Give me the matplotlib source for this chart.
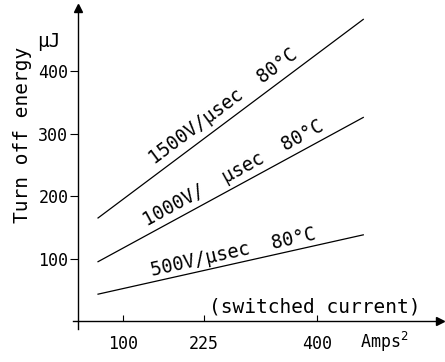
import numpy as np
import matplotlib.pyplot as plt

# data (x in Amps^2, y in uJ)
x_start, x_end = 61, 471
e_1500 = [165, 483]
e_1000 = [95, 326]
e_500 = [43, 138]
labels = ['1500V/\u03bcsec  80\u00b0C', '1000V/  \u03bcsec  80\u00b0C', '500V/\u03bcsec  80\u00b0C']
xticks = [100, 225, 400]
yticks = [100, 200, 300, 400]

plt.rcParams['font.family'] = 'DejaVu Sans Mono'
plt.rcParams['font.size'] = 12

fig = plt.figure(figsize=(4.45, 3.62), dpi=100)
ax = fig.add_axes([0.1636, 0.0925, 0.825, 0.885])
ax.set_xlim(22, 589.5)
ax.set_ylim(-12, 501)

for side in ['top', 'right']:
    ax.spines[side].set_visible(False)
ax.spines['bottom'].set_position(('data', 0))
ax.spines['left'].set_position(('data', 30))
ax.spines['bottom'].set_linewidth(1.0)
ax.spines['left'].set_linewidth(1.0)

# arrow heads
ax.plot(1, 0, '>k', ms=6, transform=ax.get_yaxis_transform(), clip_on=False)
ax.plot(30, 1, '^k', ms=6, transform=ax.get_xaxis_transform(), clip_on=False)

ax.set_xticks(xticks)
ax.set_yticks(yticks)
ax.tick_params(axis='x', direction='in', length=4, pad=10)
ax.tick_params(axis='y', direction='out', length=6, pad=1)

xs = [x_start, x_end]
for e in [e_1500, e_1000, e_500]:
    ax.plot(xs, e, color='k', lw=0.9)

# labels along the lines (distance above line in px)
fig.canvas.draw()
for e, lab, xm, off in zip([e_1500, e_1000, e_500], labels, [268, 280, 274], [14, 13, 11]):
    p = ax.transData.transform(np.column_stack([xs, e]))
    ang = np.degrees(np.arctan2(p[1, 1] - p[0, 1], p[1, 0] - p[0, 0]))
    ym = np.interp(xm, xs, e)
    dx = -off * np.sin(np.radians(ang)) * 72 / 100
    dy = off * np.cos(np.radians(ang)) * 72 / 100
    ax.annotate(lab, (xm, ym), xytext=(dx, dy), textcoords='offset points',
                rotation=ang, rotation_mode='anchor', ha='center', va='center',
                fontsize=13.5)

ax.text(559, 8, '(switched current)', ha='right', va='bottom', fontsize=14)
ax.text(503, -34, 'Amps$^2$', ha='center', va='center', clip_on=False)
fig.text(0.05, 0.627, 'Turn off energy', rotation=90, ha='center', va='center', fontsize=14)
fig.text(0.11, 0.884, '\u03bcJ', ha='center', va='center', fontsize=14)

plt.savefig('out.png', dpi=100)
